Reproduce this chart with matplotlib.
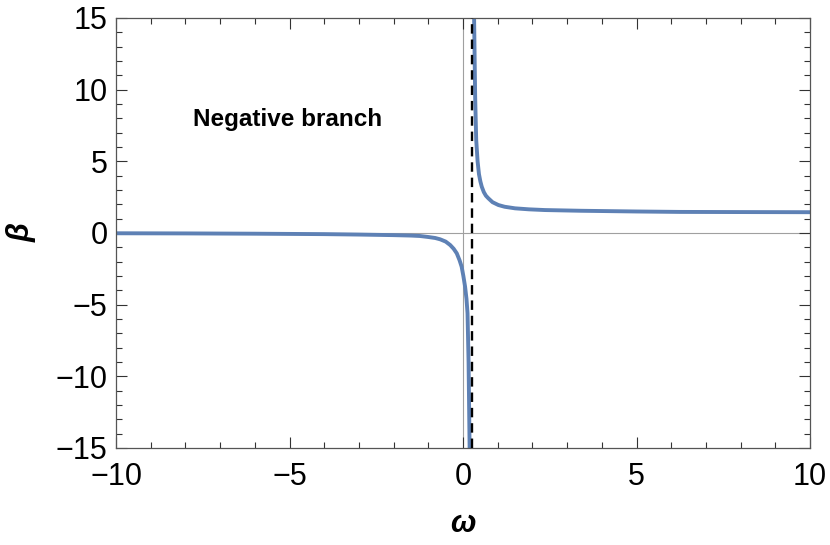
import matplotlib
matplotlib.use("Agg")
import matplotlib.pyplot as plt
from matplotlib.ticker import MultipleLocator

plt.rcParams['font.family'] = ['Liberation Sans', 'DejaVu Sans']

# values
omega_neg = [-10, -8, -6, -4, -3, -2, -1.5, -1.24, -1.0, -0.8, -0.66, -0.5, -0.37, -0.27,
             -0.18, -0.1, -0.04, 0.01, 0.06, 0.1, 0.13, 0.16, 0.19, 0.21]
beta_neg = [-0.02, -0.03, -0.05, -0.08, -0.11, -0.15, -0.18, -0.21, -0.28, -0.35, -0.44, -0.6,
            -0.84, -1.1, -1.42, -1.9, -2.35, -3.0, -3.75, -4.6, -5.6, -9.0, -15.0, -25.0]

omega_pos = [0.30, 0.32, 0.35, 0.38, 0.42, 0.46, 0.5, 0.54, 0.6, 0.66, 0.73, 0.85, 1.02, 1.2,
             1.5, 1.9, 2.36, 3.4, 5.0, 6.25, 8.0, 10.0]
beta_pos = [25.0, 14.9, 9.5, 6.5, 5.0, 4.1, 3.6, 3.23, 2.85, 2.6, 2.42, 2.15, 1.95, 1.83,
            1.72, 1.65, 1.6, 1.55, 1.5, 1.47, 1.46, 1.45]

asymptote = 0.25
label_text = 'Negative branch'

fig = plt.figure(figsize=(8.3, 5.45), dpi=100)
ax = fig.add_axes([0.1398, 0.178, 0.8361, 0.789])

ax.axhline(0, color='#a0a0a0', lw=0.8, zorder=1)
ax.axvline(0, color='#a0a0a0', lw=0.8, zorder=1)

curve_color = '#5E81B5'
ax.plot(omega_neg, beta_neg, color=curve_color, lw=2.8, zorder=2, solid_joinstyle='round')
ax.plot(omega_pos, beta_pos, color=curve_color, lw=2.8, zorder=2, solid_joinstyle='round')

ax.axvline(asymptote, color='black', lw=1.7, ls=(0, (4, 2.5)), zorder=3)

ax.text(-5.05, 7.9, label_text, fontsize=17.5, fontweight='bold', ha='center', va='center')

ax.set_xlim(-10, 10)
ax.set_ylim(-15, 15)
ax.xaxis.set_major_locator(MultipleLocator(5))
ax.xaxis.set_minor_locator(MultipleLocator(1))
ax.yaxis.set_major_locator(MultipleLocator(5))
ax.yaxis.set_minor_locator(MultipleLocator(1))

ax.tick_params(which='both', direction='in', top=True, right=True, colors='#333333',
               labelcolor='black', labelsize=22, width=0.8)
ax.tick_params(which='major', length=8)
ax.tick_params(which='minor', length=4)
ax.tick_params(axis='x', pad=10)
ax.tick_params(axis='y', pad=6)

for s in ax.spines.values():
    s.set_color('#555555')
    s.set_linewidth(0.9)

ax.set_xlabel('ω', fontsize=22, fontweight='bold', fontstyle='italic', labelpad=12)
ax.set_ylabel('β', fontsize=22, fontweight='bold', fontstyle='italic', labelpad=14)

fig.savefig('out.png', dpi=100)
